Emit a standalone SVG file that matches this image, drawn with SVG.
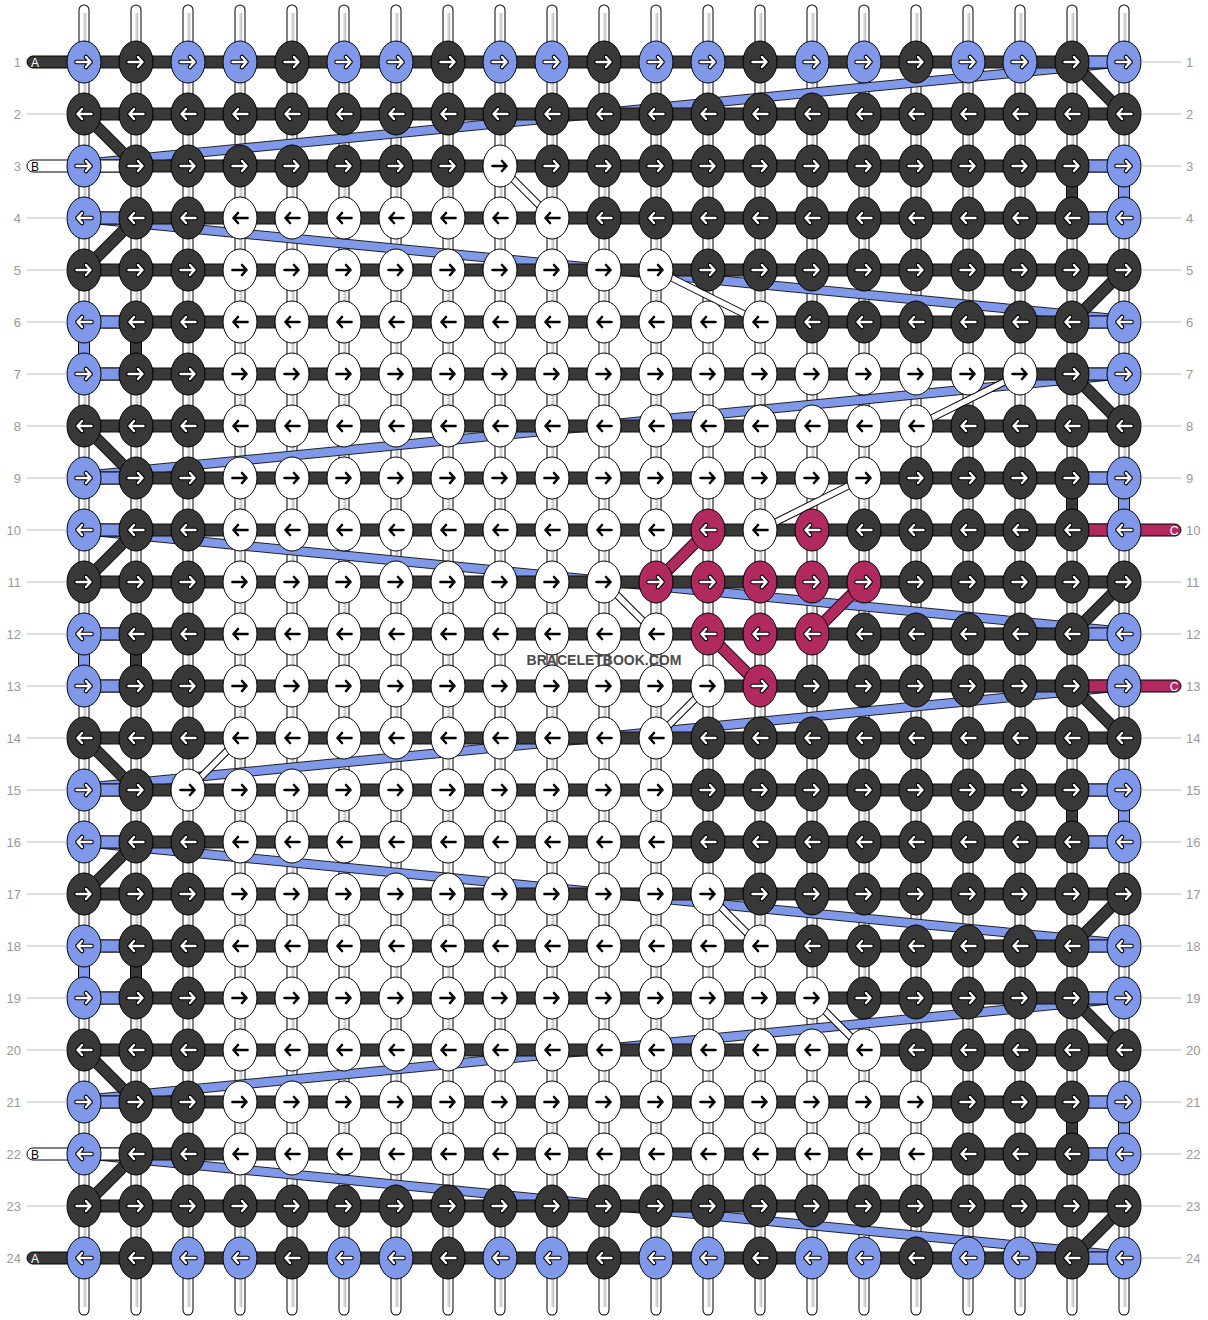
<svg xmlns="http://www.w3.org/2000/svg" xmlns:xlink="http://www.w3.org/1999/xlink" width="1208" height="1320" viewBox="0 0 1208 1320">
<style>
.num{font-family:"Liberation Sans",Arial,sans-serif;font-size:13px;fill:#999}
.gl{stroke:#bbb;stroke-width:1}
.hs{fill:#383838;stroke:#111;stroke-width:1}
.hb{fill:#8098ea;stroke:#111;stroke-width:1}
.hw{fill:#fff;stroke:#111;stroke-width:1}
.hm{fill:#b0295f;stroke:#111;stroke-width:1}
.vb{fill:#8098ea;stroke:#000;stroke-width:1}
.vd{fill:#383838;stroke:#000;stroke-width:1}
.stub{font-family:"Liberation Sans",Arial,sans-serif;font-size:12px;text-anchor:middle}
</style>
<defs>
<g id="vs"><line x1="0" y1="10" x2="0" y2="1310" stroke="#000" stroke-width="11" stroke-linecap="round"/><line x1="0" y1="10" x2="0" y2="1310" stroke="#fff" stroke-width="9" stroke-linecap="round"/><line x1="1" y1="13" x2="1" y2="1307" stroke="#cfcfcf" stroke-width="3"/></g>
<g id="awR"><path d="M-7.5,0H6.5M2,-5L6.5,0L2,5" fill="none" stroke="#000" stroke-width="4.6" stroke-linecap="round" stroke-linejoin="round"/><path d="M-7.5,0H6.5M2,-5L6.5,0L2,5" fill="none" stroke="#fff" stroke-width="2.4" stroke-linecap="round" stroke-linejoin="round"/></g>
<g id="abR"><path d="M-7.5,0H6.5M2,-5L6.5,0L2,5" fill="none" stroke="#000" stroke-width="2.6" stroke-linecap="round" stroke-linejoin="round"/></g>
<g id="bR"><ellipse rx="17" ry="21" fill="#8098ea" stroke="#000"/><use href="#awR"/></g>
<g id="bL"><ellipse rx="17" ry="21" fill="#8098ea" stroke="#000"/><use href="#awR" transform="scale(-1,1)"/></g>
<g id="dR"><ellipse rx="17" ry="21" fill="#383838" stroke="#000"/><use href="#awR"/></g>
<g id="dL"><ellipse rx="17" ry="21" fill="#383838" stroke="#000"/><use href="#awR" transform="scale(-1,1)"/></g>
<g id="mR"><ellipse rx="17" ry="21" fill="#b0295f" stroke="#000"/><use href="#awR"/></g>
<g id="mL"><ellipse rx="17" ry="21" fill="#b0295f" stroke="#000"/><use href="#awR" transform="scale(-1,1)"/></g>
<g id="wR"><ellipse rx="17" ry="21" fill="#fff" stroke="#000"/><use href="#abR"/></g>
<g id="wL"><ellipse rx="17" ry="21" fill="#fff" stroke="#000"/><use href="#abR" transform="scale(-1,1)"/></g>
</defs>
<rect width="1208" height="1320" fill="#fff"/>
<g id="vertical-strings">
<use href="#vs" x="84"/><use href="#vs" x="136"/><use href="#vs" x="188"/><use href="#vs" x="240"/><use href="#vs" x="292"/><use href="#vs" x="344"/><use href="#vs" x="396"/><use href="#vs" x="448"/><use href="#vs" x="500"/><use href="#vs" x="552"/><use href="#vs" x="604"/><use href="#vs" x="656"/><use href="#vs" x="708"/><use href="#vs" x="760"/><use href="#vs" x="812"/><use href="#vs" x="864"/><use href="#vs" x="916"/><use href="#vs" x="968"/><use href="#vs" x="1020"/><use href="#vs" x="1072"/><use href="#vs" x="1124"/>
<rect class="vb" x="78.5" y="338" width="11" height="20"/><rect class="vd" x="130.5" y="338" width="11" height="20"/>
<rect class="vb" x="78.5" y="650" width="11" height="20"/><rect class="vd" x="130.5" y="650" width="11" height="20"/>
<rect class="vb" x="78.5" y="962" width="11" height="20"/><rect class="vd" x="130.5" y="962" width="11" height="20"/>
<rect class="vb" x="1118.5" y="182" width="11" height="20"/><rect class="vd" x="1066.5" y="182" width="11" height="20"/>
<rect class="vb" x="1118.5" y="494" width="11" height="20"/><rect class="vd" x="1066.5" y="494" width="11" height="20"/>
<rect class="vb" x="1118.5" y="806" width="11" height="20"/><rect class="vd" x="1066.5" y="806" width="11" height="20"/>
<rect class="vb" x="1118.5" y="1118" width="11" height="20"/><rect class="vd" x="1066.5" y="1118" width="11" height="20"/>
</g>
<g id="connectors">
<g id="blue-bands" fill="none">
<path d="M1116,63L92,163M92,219L1116,319M1116,375L92,475M92,531L1116,631M1116,687L92,787M92,843L1116,943M1116,999L92,1099M92,1155L1116,1255" stroke="#222" stroke-width="10"/>
<path d="M1116,63L92,163M92,219L1116,319M1116,375L92,475M92,531L1116,631M1116,687L92,787M92,843L1116,943M1116,999L92,1099M92,1155L1116,1255" stroke="#8098ea" stroke-width="8"/>
</g>
<g id="rows">
<rect class="hs" x="84" y="56" width="1040" height="12"/><rect class="hs" x="84" y="108" width="1040" height="12"/><rect class="hs" x="84" y="160" width="1040" height="12"/><rect class="hs" x="84" y="212" width="1040" height="12"/><rect class="hs" x="84" y="264" width="1040" height="12"/><rect class="hs" x="84" y="316" width="1040" height="12"/><rect class="hs" x="84" y="368" width="1040" height="12"/><rect class="hs" x="84" y="420" width="1040" height="12"/><rect class="hs" x="84" y="472" width="1040" height="12"/><rect class="hs" x="84" y="524" width="1040" height="12"/><rect class="hs" x="84" y="576" width="1040" height="12"/><rect class="hs" x="84" y="628" width="1040" height="12"/><rect class="hs" x="84" y="680" width="1040" height="12"/><rect class="hs" x="84" y="732" width="1040" height="12"/><rect class="hs" x="84" y="784" width="1040" height="12"/><rect class="hs" x="84" y="836" width="1040" height="12"/><rect class="hs" x="84" y="888" width="1040" height="12"/><rect class="hs" x="84" y="940" width="1040" height="12"/><rect class="hs" x="84" y="992" width="1040" height="12"/><rect class="hs" x="84" y="1044" width="1040" height="12"/><rect class="hs" x="84" y="1096" width="1040" height="12"/><rect class="hs" x="84" y="1148" width="1040" height="12"/><rect class="hs" x="84" y="1200" width="1040" height="12"/><rect class="hs" x="84" y="1252" width="1040" height="12"/>
<rect class="hw" x="84" y="160" width="52" height="12"/>
<rect class="hb" x="84" y="212" width="52" height="12"/><rect class="hb" x="84" y="316" width="52" height="12"/><rect class="hb" x="84" y="368" width="52" height="12"/><rect class="hb" x="84" y="472" width="52" height="12"/><rect class="hb" x="84" y="524" width="52" height="12"/><rect class="hb" x="84" y="628" width="52" height="12"/><rect class="hb" x="84" y="680" width="52" height="12"/><rect class="hb" x="84" y="784" width="52" height="12"/><rect class="hb" x="84" y="836" width="52" height="12"/><rect class="hb" x="84" y="940" width="52" height="12"/><rect class="hb" x="84" y="992" width="52" height="12"/><rect class="hb" x="84" y="1096" width="52" height="12"/>
<rect class="hw" x="84" y="1148" width="52" height="12"/>
<rect class="hb" x="1072" y="56" width="52" height="12"/><rect class="hb" x="1072" y="160" width="52" height="12"/><rect class="hb" x="1072" y="212" width="52" height="12"/><rect class="hb" x="1072" y="316" width="52" height="12"/><rect class="hb" x="1072" y="368" width="52" height="12"/><rect class="hb" x="1072" y="472" width="52" height="12"/><rect class="hm" x="1072" y="524" width="52" height="12"/><rect class="hb" x="1072" y="628" width="52" height="12"/><rect class="hm" x="1072" y="680" width="52" height="12"/><rect class="hb" x="1072" y="784" width="52" height="12"/><rect class="hb" x="1072" y="836" width="52" height="12"/><rect class="hb" x="1072" y="940" width="52" height="12"/><rect class="hb" x="1072" y="992" width="52" height="12"/><rect class="hb" x="1072" y="1096" width="52" height="12"/><rect class="hb" x="1072" y="1148" width="52" height="12"/><rect class="hb" x="1072" y="1252" width="52" height="12"/>
</g>
<g id="dark-diagonals" fill="none">
<path d="M84,114L136,166M136,218L84,270M84,426L136,478M136,530L84,582M84,738L136,790M136,842L84,894M84,1050L136,1102M136,1154L84,1206M1072,62L1124,114M1124,270L1072,322M1072,374L1124,426M1124,582L1072,634M1072,686L1124,738M1124,894L1072,946M1072,998L1124,1050M1124,1206L1072,1258" stroke="#111" stroke-width="12"/>
<path d="M84,114L136,166M136,218L84,270M84,426L136,478M136,530L84,582M84,738L136,790M136,842L84,894M84,1050L136,1102M136,1154L84,1206M1072,62L1124,114M1124,270L1072,322M1072,374L1124,426M1124,582L1072,634M1072,686L1124,738M1124,894L1072,946M1072,998L1124,1050M1124,1206L1072,1258" stroke="#383838" stroke-width="10"/>
</g>
<g id="magenta-diagonals" fill="none">
<path d="M656,582L708,530M864,582L812,634M708,634L760,686" stroke="#111" stroke-width="12"/>
<path d="M656,582L708,530M864,582L812,634M708,634L760,686" stroke="#b0295f" stroke-width="10"/>
</g>
<g id="white-diagonals" fill="none">
<path d="M500,166L552,218M656,270L760,322M1020,374L916,426M864,478L760,530M604,582L656,634M708,686L656,738M240,738L188,790M708,894L760,946M812,998L864,1050" stroke="#000" stroke-width="7.5"/>
<path d="M500,166L552,218M656,270L760,322M1020,374L916,426M864,478L760,530M604,582L656,634M708,686L656,738M240,738L188,790M708,894L760,946M812,998L864,1050" stroke="#fff" stroke-width="5.5"/>
</g>
</g>
<g id="string-ends">
<g id="endA1"><rect x="27" y="56" width="62" height="12" rx="6" fill="#383838" stroke="#000"/><text class="stub" x="35" y="66.5" fill="#fff">A</text></g>
<g id="endB3"><rect x="27" y="160" width="62" height="12" rx="6" fill="#fff" stroke="#000"/><text class="stub" x="35" y="170.5" fill="#000">B</text></g>
<g id="endB22"><rect x="27" y="1148" width="62" height="12" rx="6" fill="#fff" stroke="#000"/><text class="stub" x="35" y="1158.5" fill="#000">B</text></g>
<g id="endA24"><rect x="27" y="1252" width="62" height="12" rx="6" fill="#383838" stroke="#000"/><text class="stub" x="35" y="1262.5" fill="#fff">A</text></g>
<g id="endC10"><rect x="1119" y="524" width="62" height="12" rx="6" fill="#b0295f" stroke="#000"/><text class="stub" x="1174" y="534.5" fill="#fff">C</text></g>
<g id="endC13"><rect x="1119" y="680" width="62" height="12" rx="6" fill="#b0295f" stroke="#000"/><text class="stub" x="1174" y="690.5" fill="#fff">C</text></g>
</g>
<g id="knots">
<g id="row-1" transform="translate(0,62)"><use id="k1-1" href="#bR" x="84"/><use id="k1-2" href="#dR" x="136"/><use id="k1-3" href="#bR" x="188"/><use id="k1-4" href="#bR" x="240"/><use id="k1-5" href="#dR" x="292"/><use id="k1-6" href="#bR" x="344"/><use id="k1-7" href="#bR" x="396"/><use id="k1-8" href="#dR" x="448"/><use id="k1-9" href="#bR" x="500"/><use id="k1-10" href="#bR" x="552"/><use id="k1-11" href="#dR" x="604"/><use id="k1-12" href="#bR" x="656"/><use id="k1-13" href="#bR" x="708"/><use id="k1-14" href="#dR" x="760"/><use id="k1-15" href="#bR" x="812"/><use id="k1-16" href="#bR" x="864"/><use id="k1-17" href="#dR" x="916"/><use id="k1-18" href="#bR" x="968"/><use id="k1-19" href="#bR" x="1020"/><use id="k1-20" href="#dR" x="1072"/><use id="k1-21" href="#bR" x="1124"/></g>
<g id="row-2" transform="translate(0,114)"><use id="k2-1" href="#dL" x="84"/><use id="k2-2" href="#dL" x="136"/><use id="k2-3" href="#dL" x="188"/><use id="k2-4" href="#dL" x="240"/><use id="k2-5" href="#dL" x="292"/><use id="k2-6" href="#dL" x="344"/><use id="k2-7" href="#dL" x="396"/><use id="k2-8" href="#dL" x="448"/><use id="k2-9" href="#dL" x="500"/><use id="k2-10" href="#dL" x="552"/><use id="k2-11" href="#dL" x="604"/><use id="k2-12" href="#dL" x="656"/><use id="k2-13" href="#dL" x="708"/><use id="k2-14" href="#dL" x="760"/><use id="k2-15" href="#dL" x="812"/><use id="k2-16" href="#dL" x="864"/><use id="k2-17" href="#dL" x="916"/><use id="k2-18" href="#dL" x="968"/><use id="k2-19" href="#dL" x="1020"/><use id="k2-20" href="#dL" x="1072"/><use id="k2-21" href="#dL" x="1124"/></g>
<g id="row-3" transform="translate(0,166)"><use id="k3-1" href="#bR" x="84"/><use id="k3-2" href="#dR" x="136"/><use id="k3-3" href="#dR" x="188"/><use id="k3-4" href="#dR" x="240"/><use id="k3-5" href="#dR" x="292"/><use id="k3-6" href="#dR" x="344"/><use id="k3-7" href="#dR" x="396"/><use id="k3-8" href="#dR" x="448"/><use id="k3-9" href="#wR" x="500"/><use id="k3-10" href="#dR" x="552"/><use id="k3-11" href="#dR" x="604"/><use id="k3-12" href="#dR" x="656"/><use id="k3-13" href="#dR" x="708"/><use id="k3-14" href="#dR" x="760"/><use id="k3-15" href="#dR" x="812"/><use id="k3-16" href="#dR" x="864"/><use id="k3-17" href="#dR" x="916"/><use id="k3-18" href="#dR" x="968"/><use id="k3-19" href="#dR" x="1020"/><use id="k3-20" href="#dR" x="1072"/><use id="k3-21" href="#bR" x="1124"/></g>
<g id="row-4" transform="translate(0,218)"><use id="k4-1" href="#bL" x="84"/><use id="k4-2" href="#dL" x="136"/><use id="k4-3" href="#dL" x="188"/><use id="k4-4" href="#wL" x="240"/><use id="k4-5" href="#wL" x="292"/><use id="k4-6" href="#wL" x="344"/><use id="k4-7" href="#wL" x="396"/><use id="k4-8" href="#wL" x="448"/><use id="k4-9" href="#wL" x="500"/><use id="k4-10" href="#wL" x="552"/><use id="k4-11" href="#dL" x="604"/><use id="k4-12" href="#dL" x="656"/><use id="k4-13" href="#dL" x="708"/><use id="k4-14" href="#dL" x="760"/><use id="k4-15" href="#dL" x="812"/><use id="k4-16" href="#dL" x="864"/><use id="k4-17" href="#dL" x="916"/><use id="k4-18" href="#dL" x="968"/><use id="k4-19" href="#dL" x="1020"/><use id="k4-20" href="#dL" x="1072"/><use id="k4-21" href="#bL" x="1124"/></g>
<g id="row-5" transform="translate(0,270)"><use id="k5-1" href="#dR" x="84"/><use id="k5-2" href="#dR" x="136"/><use id="k5-3" href="#dR" x="188"/><use id="k5-4" href="#wR" x="240"/><use id="k5-5" href="#wR" x="292"/><use id="k5-6" href="#wR" x="344"/><use id="k5-7" href="#wR" x="396"/><use id="k5-8" href="#wR" x="448"/><use id="k5-9" href="#wR" x="500"/><use id="k5-10" href="#wR" x="552"/><use id="k5-11" href="#wR" x="604"/><use id="k5-12" href="#wR" x="656"/><use id="k5-13" href="#dR" x="708"/><use id="k5-14" href="#dR" x="760"/><use id="k5-15" href="#dR" x="812"/><use id="k5-16" href="#dR" x="864"/><use id="k5-17" href="#dR" x="916"/><use id="k5-18" href="#dR" x="968"/><use id="k5-19" href="#dR" x="1020"/><use id="k5-20" href="#dR" x="1072"/><use id="k5-21" href="#dR" x="1124"/></g>
<g id="row-6" transform="translate(0,322)"><use id="k6-1" href="#bL" x="84"/><use id="k6-2" href="#dL" x="136"/><use id="k6-3" href="#dL" x="188"/><use id="k6-4" href="#wL" x="240"/><use id="k6-5" href="#wL" x="292"/><use id="k6-6" href="#wL" x="344"/><use id="k6-7" href="#wL" x="396"/><use id="k6-8" href="#wL" x="448"/><use id="k6-9" href="#wL" x="500"/><use id="k6-10" href="#wL" x="552"/><use id="k6-11" href="#wL" x="604"/><use id="k6-12" href="#wL" x="656"/><use id="k6-13" href="#wL" x="708"/><use id="k6-14" href="#wL" x="760"/><use id="k6-15" href="#dL" x="812"/><use id="k6-16" href="#dL" x="864"/><use id="k6-17" href="#dL" x="916"/><use id="k6-18" href="#dL" x="968"/><use id="k6-19" href="#dL" x="1020"/><use id="k6-20" href="#dL" x="1072"/><use id="k6-21" href="#bL" x="1124"/></g>
<g id="row-7" transform="translate(0,374)"><use id="k7-1" href="#bR" x="84"/><use id="k7-2" href="#dR" x="136"/><use id="k7-3" href="#dR" x="188"/><use id="k7-4" href="#wR" x="240"/><use id="k7-5" href="#wR" x="292"/><use id="k7-6" href="#wR" x="344"/><use id="k7-7" href="#wR" x="396"/><use id="k7-8" href="#wR" x="448"/><use id="k7-9" href="#wR" x="500"/><use id="k7-10" href="#wR" x="552"/><use id="k7-11" href="#wR" x="604"/><use id="k7-12" href="#wR" x="656"/><use id="k7-13" href="#wR" x="708"/><use id="k7-14" href="#wR" x="760"/><use id="k7-15" href="#wR" x="812"/><use id="k7-16" href="#wR" x="864"/><use id="k7-17" href="#wR" x="916"/><use id="k7-18" href="#wR" x="968"/><use id="k7-19" href="#wR" x="1020"/><use id="k7-20" href="#dR" x="1072"/><use id="k7-21" href="#bR" x="1124"/></g>
<g id="row-8" transform="translate(0,426)"><use id="k8-1" href="#dL" x="84"/><use id="k8-2" href="#dL" x="136"/><use id="k8-3" href="#dL" x="188"/><use id="k8-4" href="#wL" x="240"/><use id="k8-5" href="#wL" x="292"/><use id="k8-6" href="#wL" x="344"/><use id="k8-7" href="#wL" x="396"/><use id="k8-8" href="#wL" x="448"/><use id="k8-9" href="#wL" x="500"/><use id="k8-10" href="#wL" x="552"/><use id="k8-11" href="#wL" x="604"/><use id="k8-12" href="#wL" x="656"/><use id="k8-13" href="#wL" x="708"/><use id="k8-14" href="#wL" x="760"/><use id="k8-15" href="#wL" x="812"/><use id="k8-16" href="#wL" x="864"/><use id="k8-17" href="#wL" x="916"/><use id="k8-18" href="#dL" x="968"/><use id="k8-19" href="#dL" x="1020"/><use id="k8-20" href="#dL" x="1072"/><use id="k8-21" href="#dL" x="1124"/></g>
<g id="row-9" transform="translate(0,478)"><use id="k9-1" href="#bR" x="84"/><use id="k9-2" href="#dR" x="136"/><use id="k9-3" href="#dR" x="188"/><use id="k9-4" href="#wR" x="240"/><use id="k9-5" href="#wR" x="292"/><use id="k9-6" href="#wR" x="344"/><use id="k9-7" href="#wR" x="396"/><use id="k9-8" href="#wR" x="448"/><use id="k9-9" href="#wR" x="500"/><use id="k9-10" href="#wR" x="552"/><use id="k9-11" href="#wR" x="604"/><use id="k9-12" href="#wR" x="656"/><use id="k9-13" href="#wR" x="708"/><use id="k9-14" href="#wR" x="760"/><use id="k9-15" href="#wR" x="812"/><use id="k9-16" href="#wR" x="864"/><use id="k9-17" href="#dR" x="916"/><use id="k9-18" href="#dR" x="968"/><use id="k9-19" href="#dR" x="1020"/><use id="k9-20" href="#dR" x="1072"/><use id="k9-21" href="#bR" x="1124"/></g>
<g id="row-10" transform="translate(0,530)"><use id="k10-1" href="#bL" x="84"/><use id="k10-2" href="#dL" x="136"/><use id="k10-3" href="#dL" x="188"/><use id="k10-4" href="#wL" x="240"/><use id="k10-5" href="#wL" x="292"/><use id="k10-6" href="#wL" x="344"/><use id="k10-7" href="#wL" x="396"/><use id="k10-8" href="#wL" x="448"/><use id="k10-9" href="#wL" x="500"/><use id="k10-10" href="#wL" x="552"/><use id="k10-11" href="#wL" x="604"/><use id="k10-12" href="#wL" x="656"/><use id="k10-13" href="#mL" x="708"/><use id="k10-14" href="#wL" x="760"/><use id="k10-15" href="#mL" x="812"/><use id="k10-16" href="#dL" x="864"/><use id="k10-17" href="#dL" x="916"/><use id="k10-18" href="#dL" x="968"/><use id="k10-19" href="#dL" x="1020"/><use id="k10-20" href="#dL" x="1072"/><use id="k10-21" href="#bL" x="1124"/></g>
<g id="row-11" transform="translate(0,582)"><use id="k11-1" href="#dR" x="84"/><use id="k11-2" href="#dR" x="136"/><use id="k11-3" href="#dR" x="188"/><use id="k11-4" href="#wR" x="240"/><use id="k11-5" href="#wR" x="292"/><use id="k11-6" href="#wR" x="344"/><use id="k11-7" href="#wR" x="396"/><use id="k11-8" href="#wR" x="448"/><use id="k11-9" href="#wR" x="500"/><use id="k11-10" href="#wR" x="552"/><use id="k11-11" href="#wR" x="604"/><use id="k11-12" href="#mR" x="656"/><use id="k11-13" href="#mR" x="708"/><use id="k11-14" href="#mR" x="760"/><use id="k11-15" href="#mR" x="812"/><use id="k11-16" href="#mR" x="864"/><use id="k11-17" href="#dR" x="916"/><use id="k11-18" href="#dR" x="968"/><use id="k11-19" href="#dR" x="1020"/><use id="k11-20" href="#dR" x="1072"/><use id="k11-21" href="#dR" x="1124"/></g>
<g id="row-12" transform="translate(0,634)"><use id="k12-1" href="#bL" x="84"/><use id="k12-2" href="#dL" x="136"/><use id="k12-3" href="#dL" x="188"/><use id="k12-4" href="#wL" x="240"/><use id="k12-5" href="#wL" x="292"/><use id="k12-6" href="#wL" x="344"/><use id="k12-7" href="#wL" x="396"/><use id="k12-8" href="#wL" x="448"/><use id="k12-9" href="#wL" x="500"/><use id="k12-10" href="#wL" x="552"/><use id="k12-11" href="#wL" x="604"/><use id="k12-12" href="#wL" x="656"/><use id="k12-13" href="#mL" x="708"/><use id="k12-14" href="#mL" x="760"/><use id="k12-15" href="#mL" x="812"/><use id="k12-16" href="#dL" x="864"/><use id="k12-17" href="#dL" x="916"/><use id="k12-18" href="#dL" x="968"/><use id="k12-19" href="#dL" x="1020"/><use id="k12-20" href="#dL" x="1072"/><use id="k12-21" href="#bL" x="1124"/></g>
<g id="row-13" transform="translate(0,686)"><use id="k13-1" href="#bR" x="84"/><use id="k13-2" href="#dR" x="136"/><use id="k13-3" href="#dR" x="188"/><use id="k13-4" href="#wR" x="240"/><use id="k13-5" href="#wR" x="292"/><use id="k13-6" href="#wR" x="344"/><use id="k13-7" href="#wR" x="396"/><use id="k13-8" href="#wR" x="448"/><use id="k13-9" href="#wR" x="500"/><use id="k13-10" href="#wR" x="552"/><use id="k13-11" href="#wR" x="604"/><use id="k13-12" href="#wR" x="656"/><use id="k13-13" href="#wR" x="708"/><use id="k13-14" href="#mR" x="760"/><use id="k13-15" href="#dR" x="812"/><use id="k13-16" href="#dR" x="864"/><use id="k13-17" href="#dR" x="916"/><use id="k13-18" href="#dR" x="968"/><use id="k13-19" href="#dR" x="1020"/><use id="k13-20" href="#dR" x="1072"/><use id="k13-21" href="#bR" x="1124"/></g>
<g id="row-14" transform="translate(0,738)"><use id="k14-1" href="#dL" x="84"/><use id="k14-2" href="#dL" x="136"/><use id="k14-3" href="#dL" x="188"/><use id="k14-4" href="#wL" x="240"/><use id="k14-5" href="#wL" x="292"/><use id="k14-6" href="#wL" x="344"/><use id="k14-7" href="#wL" x="396"/><use id="k14-8" href="#wL" x="448"/><use id="k14-9" href="#wL" x="500"/><use id="k14-10" href="#wL" x="552"/><use id="k14-11" href="#wL" x="604"/><use id="k14-12" href="#wL" x="656"/><use id="k14-13" href="#dL" x="708"/><use id="k14-14" href="#dL" x="760"/><use id="k14-15" href="#dL" x="812"/><use id="k14-16" href="#dL" x="864"/><use id="k14-17" href="#dL" x="916"/><use id="k14-18" href="#dL" x="968"/><use id="k14-19" href="#dL" x="1020"/><use id="k14-20" href="#dL" x="1072"/><use id="k14-21" href="#dL" x="1124"/></g>
<g id="row-15" transform="translate(0,790)"><use id="k15-1" href="#bR" x="84"/><use id="k15-2" href="#dR" x="136"/><use id="k15-3" href="#wR" x="188"/><use id="k15-4" href="#wR" x="240"/><use id="k15-5" href="#wR" x="292"/><use id="k15-6" href="#wR" x="344"/><use id="k15-7" href="#wR" x="396"/><use id="k15-8" href="#wR" x="448"/><use id="k15-9" href="#wR" x="500"/><use id="k15-10" href="#wR" x="552"/><use id="k15-11" href="#wR" x="604"/><use id="k15-12" href="#wR" x="656"/><use id="k15-13" href="#dR" x="708"/><use id="k15-14" href="#dR" x="760"/><use id="k15-15" href="#dR" x="812"/><use id="k15-16" href="#dR" x="864"/><use id="k15-17" href="#dR" x="916"/><use id="k15-18" href="#dR" x="968"/><use id="k15-19" href="#dR" x="1020"/><use id="k15-20" href="#dR" x="1072"/><use id="k15-21" href="#bR" x="1124"/></g>
<g id="row-16" transform="translate(0,842)"><use id="k16-1" href="#bL" x="84"/><use id="k16-2" href="#dL" x="136"/><use id="k16-3" href="#dL" x="188"/><use id="k16-4" href="#wL" x="240"/><use id="k16-5" href="#wL" x="292"/><use id="k16-6" href="#wL" x="344"/><use id="k16-7" href="#wL" x="396"/><use id="k16-8" href="#wL" x="448"/><use id="k16-9" href="#wL" x="500"/><use id="k16-10" href="#wL" x="552"/><use id="k16-11" href="#wL" x="604"/><use id="k16-12" href="#wL" x="656"/><use id="k16-13" href="#dL" x="708"/><use id="k16-14" href="#dL" x="760"/><use id="k16-15" href="#dL" x="812"/><use id="k16-16" href="#dL" x="864"/><use id="k16-17" href="#dL" x="916"/><use id="k16-18" href="#dL" x="968"/><use id="k16-19" href="#dL" x="1020"/><use id="k16-20" href="#dL" x="1072"/><use id="k16-21" href="#bL" x="1124"/></g>
<g id="row-17" transform="translate(0,894)"><use id="k17-1" href="#dR" x="84"/><use id="k17-2" href="#dR" x="136"/><use id="k17-3" href="#dR" x="188"/><use id="k17-4" href="#wR" x="240"/><use id="k17-5" href="#wR" x="292"/><use id="k17-6" href="#wR" x="344"/><use id="k17-7" href="#wR" x="396"/><use id="k17-8" href="#wR" x="448"/><use id="k17-9" href="#wR" x="500"/><use id="k17-10" href="#wR" x="552"/><use id="k17-11" href="#wR" x="604"/><use id="k17-12" href="#wR" x="656"/><use id="k17-13" href="#wR" x="708"/><use id="k17-14" href="#dR" x="760"/><use id="k17-15" href="#dR" x="812"/><use id="k17-16" href="#dR" x="864"/><use id="k17-17" href="#dR" x="916"/><use id="k17-18" href="#dR" x="968"/><use id="k17-19" href="#dR" x="1020"/><use id="k17-20" href="#dR" x="1072"/><use id="k17-21" href="#dR" x="1124"/></g>
<g id="row-18" transform="translate(0,946)"><use id="k18-1" href="#bL" x="84"/><use id="k18-2" href="#dL" x="136"/><use id="k18-3" href="#dL" x="188"/><use id="k18-4" href="#wL" x="240"/><use id="k18-5" href="#wL" x="292"/><use id="k18-6" href="#wL" x="344"/><use id="k18-7" href="#wL" x="396"/><use id="k18-8" href="#wL" x="448"/><use id="k18-9" href="#wL" x="500"/><use id="k18-10" href="#wL" x="552"/><use id="k18-11" href="#wL" x="604"/><use id="k18-12" href="#wL" x="656"/><use id="k18-13" href="#wL" x="708"/><use id="k18-14" href="#wL" x="760"/><use id="k18-15" href="#dL" x="812"/><use id="k18-16" href="#dL" x="864"/><use id="k18-17" href="#dL" x="916"/><use id="k18-18" href="#dL" x="968"/><use id="k18-19" href="#dL" x="1020"/><use id="k18-20" href="#dL" x="1072"/><use id="k18-21" href="#bL" x="1124"/></g>
<g id="row-19" transform="translate(0,998)"><use id="k19-1" href="#bR" x="84"/><use id="k19-2" href="#dR" x="136"/><use id="k19-3" href="#dR" x="188"/><use id="k19-4" href="#wR" x="240"/><use id="k19-5" href="#wR" x="292"/><use id="k19-6" href="#wR" x="344"/><use id="k19-7" href="#wR" x="396"/><use id="k19-8" href="#wR" x="448"/><use id="k19-9" href="#wR" x="500"/><use id="k19-10" href="#wR" x="552"/><use id="k19-11" href="#wR" x="604"/><use id="k19-12" href="#wR" x="656"/><use id="k19-13" href="#wR" x="708"/><use id="k19-14" href="#wR" x="760"/><use id="k19-15" href="#wR" x="812"/><use id="k19-16" href="#dR" x="864"/><use id="k19-17" href="#dR" x="916"/><use id="k19-18" href="#dR" x="968"/><use id="k19-19" href="#dR" x="1020"/><use id="k19-20" href="#dR" x="1072"/><use id="k19-21" href="#bR" x="1124"/></g>
<g id="row-20" transform="translate(0,1050)"><use id="k20-1" href="#dL" x="84"/><use id="k20-2" href="#dL" x="136"/><use id="k20-3" href="#dL" x="188"/><use id="k20-4" href="#wL" x="240"/><use id="k20-5" href="#wL" x="292"/><use id="k20-6" href="#wL" x="344"/><use id="k20-7" href="#wL" x="396"/><use id="k20-8" href="#wL" x="448"/><use id="k20-9" href="#wL" x="500"/><use id="k20-10" href="#wL" x="552"/><use id="k20-11" href="#wL" x="604"/><use id="k20-12" href="#wL" x="656"/><use id="k20-13" href="#wL" x="708"/><use id="k20-14" href="#wL" x="760"/><use id="k20-15" href="#wL" x="812"/><use id="k20-16" href="#wL" x="864"/><use id="k20-17" href="#dL" x="916"/><use id="k20-18" href="#dL" x="968"/><use id="k20-19" href="#dL" x="1020"/><use id="k20-20" href="#dL" x="1072"/><use id="k20-21" href="#dL" x="1124"/></g>
<g id="row-21" transform="translate(0,1102)"><use id="k21-1" href="#bR" x="84"/><use id="k21-2" href="#dR" x="136"/><use id="k21-3" href="#dR" x="188"/><use id="k21-4" href="#wR" x="240"/><use id="k21-5" href="#wR" x="292"/><use id="k21-6" href="#wR" x="344"/><use id="k21-7" href="#wR" x="396"/><use id="k21-8" href="#wR" x="448"/><use id="k21-9" href="#wR" x="500"/><use id="k21-10" href="#wR" x="552"/><use id="k21-11" href="#wR" x="604"/><use id="k21-12" href="#wR" x="656"/><use id="k21-13" href="#wR" x="708"/><use id="k21-14" href="#wR" x="760"/><use id="k21-15" href="#wR" x="812"/><use id="k21-16" href="#wR" x="864"/><use id="k21-17" href="#wR" x="916"/><use id="k21-18" href="#dR" x="968"/><use id="k21-19" href="#dR" x="1020"/><use id="k21-20" href="#dR" x="1072"/><use id="k21-21" href="#bR" x="1124"/></g>
<g id="row-22" transform="translate(0,1154)"><use id="k22-1" href="#bL" x="84"/><use id="k22-2" href="#dL" x="136"/><use id="k22-3" href="#dL" x="188"/><use id="k22-4" href="#wL" x="240"/><use id="k22-5" href="#wL" x="292"/><use id="k22-6" href="#wL" x="344"/><use id="k22-7" href="#wL" x="396"/><use id="k22-8" href="#wL" x="448"/><use id="k22-9" href="#wL" x="500"/><use id="k22-10" href="#wL" x="552"/><use id="k22-11" href="#wL" x="604"/><use id="k22-12" href="#wL" x="656"/><use id="k22-13" href="#wL" x="708"/><use id="k22-14" href="#wL" x="760"/><use id="k22-15" href="#wL" x="812"/><use id="k22-16" href="#wL" x="864"/><use id="k22-17" href="#wL" x="916"/><use id="k22-18" href="#dL" x="968"/><use id="k22-19" href="#dL" x="1020"/><use id="k22-20" href="#dL" x="1072"/><use id="k22-21" href="#bL" x="1124"/></g>
<g id="row-23" transform="translate(0,1206)"><use id="k23-1" href="#dR" x="84"/><use id="k23-2" href="#dR" x="136"/><use id="k23-3" href="#dR" x="188"/><use id="k23-4" href="#dR" x="240"/><use id="k23-5" href="#dR" x="292"/><use id="k23-6" href="#dR" x="344"/><use id="k23-7" href="#dR" x="396"/><use id="k23-8" href="#dR" x="448"/><use id="k23-9" href="#dR" x="500"/><use id="k23-10" href="#dR" x="552"/><use id="k23-11" href="#dR" x="604"/><use id="k23-12" href="#dR" x="656"/><use id="k23-13" href="#dR" x="708"/><use id="k23-14" href="#dR" x="760"/><use id="k23-15" href="#dR" x="812"/><use id="k23-16" href="#dR" x="864"/><use id="k23-17" href="#dR" x="916"/><use id="k23-18" href="#dR" x="968"/><use id="k23-19" href="#dR" x="1020"/><use id="k23-20" href="#dR" x="1072"/><use id="k23-21" href="#dR" x="1124"/></g>
<g id="row-24" transform="translate(0,1258)"><use id="k24-1" href="#bL" x="84"/><use id="k24-2" href="#dL" x="136"/><use id="k24-3" href="#bL" x="188"/><use id="k24-4" href="#bL" x="240"/><use id="k24-5" href="#dL" x="292"/><use id="k24-6" href="#bL" x="344"/><use id="k24-7" href="#bL" x="396"/><use id="k24-8" href="#dL" x="448"/><use id="k24-9" href="#bL" x="500"/><use id="k24-10" href="#bL" x="552"/><use id="k24-11" href="#dL" x="604"/><use id="k24-12" href="#bL" x="656"/><use id="k24-13" href="#bL" x="708"/><use id="k24-14" href="#dL" x="760"/><use id="k24-15" href="#bL" x="812"/><use id="k24-16" href="#bL" x="864"/><use id="k24-17" href="#dL" x="916"/><use id="k24-18" href="#bL" x="968"/><use id="k24-19" href="#bL" x="1020"/><use id="k24-20" href="#dL" x="1072"/><use id="k24-21" href="#bL" x="1124"/></g>
</g>
<g id="row-guides">
<path class="gl" d="M27,114H67M27,218H67M27,270H67M27,322H67M27,374H67M27,426H67M27,478H67M27,530H67M27,582H67M27,634H67M27,686H67M27,738H67M27,790H67M27,842H67M27,894H67M27,946H67M27,998H67M27,1050H67M27,1102H67M27,1206H67"/>
<path class="gl" d="M1141,62H1181M1141,114H1181M1141,166H1181M1141,218H1181M1141,270H1181M1141,322H1181M1141,374H1181M1141,426H1181M1141,478H1181M1141,582H1181M1141,634H1181M1141,738H1181M1141,790H1181M1141,842H1181M1141,894H1181M1141,946H1181M1141,998H1181M1141,1050H1181M1141,1102H1181M1141,1154H1181M1141,1206H1181M1141,1258H1181"/>
</g>
<g id="row-numbers-left" class="num" text-anchor="end">
<text x="21" y="66.5">1</text><text x="21" y="118.5">2</text><text x="21" y="170.5">3</text><text x="21" y="222.5">4</text><text x="21" y="274.5">5</text><text x="21" y="326.5">6</text><text x="21" y="378.5">7</text><text x="21" y="430.5">8</text><text x="21" y="482.5">9</text><text x="21" y="534.5">10</text><text x="21" y="586.5">11</text><text x="21" y="638.5">12</text><text x="21" y="690.5">13</text><text x="21" y="742.5">14</text><text x="21" y="794.5">15</text><text x="21" y="846.5">16</text><text x="21" y="898.5">17</text><text x="21" y="950.5">18</text><text x="21" y="1002.5">19</text><text x="21" y="1054.5">20</text><text x="21" y="1106.5">21</text><text x="21" y="1158.5">22</text><text x="21" y="1210.5">23</text><text x="21" y="1262.5">24</text>
</g>
<g id="row-numbers-right" class="num" text-anchor="start">
<text x="1186" y="66.5">1</text><text x="1186" y="118.5">2</text><text x="1186" y="170.5">3</text><text x="1186" y="222.5">4</text><text x="1186" y="274.5">5</text><text x="1186" y="326.5">6</text><text x="1186" y="378.5">7</text><text x="1186" y="430.5">8</text><text x="1186" y="482.5">9</text><text x="1186" y="534.5">10</text><text x="1186" y="586.5">11</text><text x="1186" y="638.5">12</text><text x="1186" y="690.5">13</text><text x="1186" y="742.5">14</text><text x="1186" y="794.5">15</text><text x="1186" y="846.5">16</text><text x="1186" y="898.5">17</text><text x="1186" y="950.5">18</text><text x="1186" y="1002.5">19</text><text x="1186" y="1054.5">20</text><text x="1186" y="1106.5">21</text><text x="1186" y="1158.5">22</text><text x="1186" y="1210.5">23</text><text x="1186" y="1262.5">24</text>
</g>
<text id="watermark" x="604" y="665" text-anchor="middle" font-family="'Liberation Sans',Arial,sans-serif" font-weight="bold" font-size="14" fill="#4a4a4a">BRACELETBOOK.COM</text>
</svg>
